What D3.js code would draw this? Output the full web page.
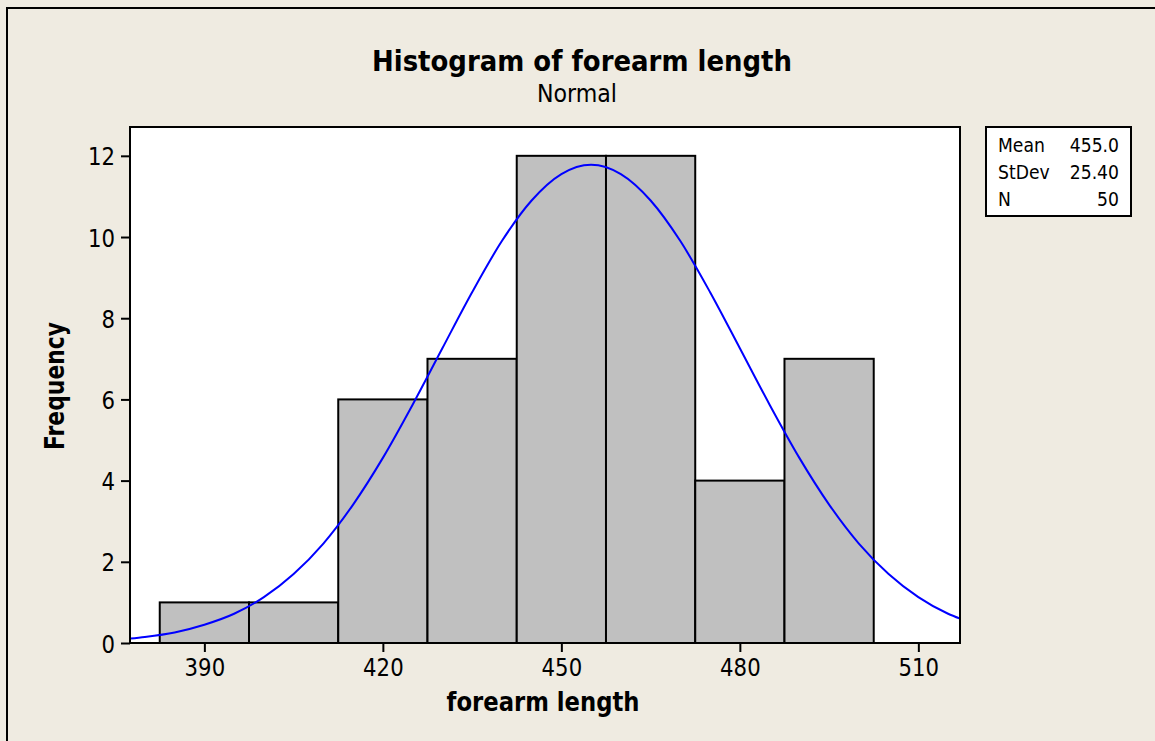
<!DOCTYPE html>
<html>
<head>
<meta charset="utf-8">
<script src="https://cdn.jsdelivr.net/npm/d3@7"></script>
<style>
  html, body { margin: 0; padding: 0; background: #efebe1; }
  svg { display: block; }
  text { font-family: "DejaVu Sans", Verdana, sans-serif; fill: #000; }
</style>
</head>
<body>
<svg id="chart" width="1155" height="741"></svg>
<script>
// histogram bins (lower edge) and counts
const binStart = [382.5, 397.5, 412.5, 427.5, 442.5, 457.5, 472.5, 487.5];
const binWidth = 15;
const counts = [1, 1, 6, 7, 12, 12, 4, 7];

// fitted normal curve
const curveX = [377.5, 380, 385, 390, 395, 400, 405, 410, 415, 420, 425, 430, 435, 440, 445, 450,
  455, 460, 465, 470, 475, 480, 485, 490, 495, 500, 505, 510, 515, 517];
const curveY = [0.11, 0.15, 0.26, 0.45, 0.72, 1.13, 1.70, 2.45, 3.41, 4.56, 5.87, 7.26, 8.64, 9.90, 10.90, 11.55,
  11.78, 11.55, 10.90, 9.90, 8.64, 7.26, 5.87, 4.56, 3.41, 2.45, 1.70, 1.13, 0.72, 0.60];

const xTicks = [390, 420, 450, 480, 510];
const yTicks = [0, 2, 4, 6, 8, 10, 12];

const statLabels = ["Mean", "StDev", "N"];
const statValues = ["455.0", "25.40", "50"];

const svg = d3.select("#chart");
const W = 1155, H = 741;

// plot area
const pLeft = 130, pRight = 960, pTop = 127, pBottom = 643;

const x = d3.scaleLinear().domain([377.5, 517]).range([pLeft, pRight]);
const y = d3.scaleLinear().domain([0, 12.71]).range([pBottom, pTop]);

// squeeze DejaVu a bit so it looks like Tahoma
function condense(sel, k) {
  sel.each(function () {
    const len = this.getComputedTextLength();
    this.setAttribute("textLength", len * (k || 0.86));
    this.setAttribute("lengthAdjust", "spacingAndGlyphs");
  });
}

// outer frame (only top and left show)
svg.append("rect").attr("width", W).attr("height", H).attr("fill", "#efebe1");
svg.append("path")
  .attr("d", `M7,${H} L7,8 L${W},8`)
  .attr("fill", "none")
  .attr("stroke", "#000")
  .attr("stroke-width", 2);

// plot background
svg.append("rect")
  .attr("x", pLeft).attr("y", pTop)
  .attr("width", pRight - pLeft).attr("height", pBottom - pTop)
  .attr("fill", "#fff");

svg.append("clipPath").attr("id", "clip")
  .append("rect")
  .attr("x", pLeft).attr("y", pTop)
  .attr("width", pRight - pLeft).attr("height", pBottom - pTop);

// bars
svg.append("g")
  .selectAll("rect")
  .data(counts)
  .enter()
  .append("rect")
  .attr("x", (d, i) => x(binStart[i]))
  .attr("y", d => y(d))
  .attr("width", (d, i) => x(binStart[i] + binWidth) - x(binStart[i]))
  .attr("height", d => y(0) - y(d))
  .attr("fill", "#c0c0c0")
  .attr("stroke", "#000")
  .attr("stroke-width", 2);

// normal curve
const line = d3.line()
  .x(d => x(d[0]))
  .y(d => y(d[1]))
  .curve(d3.curveMonotoneX);

svg.append("path")
  .datum(curveX.map((v, i) => [v, curveY[i]]))
  .attr("clip-path", "url(#clip)")
  .attr("d", line)
  .attr("fill", "none")
  .attr("stroke", "#0000ff")
  .attr("stroke-width", 2);

// frame on top of bars
svg.append("rect")
  .attr("x", pLeft).attr("y", pTop)
  .attr("width", pRight - pLeft).attr("height", pBottom - pTop)
  .attr("fill", "none")
  .attr("stroke", "#000")
  .attr("stroke-width", 2);

// axes
const xAxis = svg.append("g")
  .attr("transform", `translate(0,${pBottom})`)
  .call(d3.axisBottom(x).tickValues(xTicks).tickSize(9).tickPadding(6).tickSizeOuter(0));

const yAxis = svg.append("g")
  .attr("transform", `translate(${pLeft},0)`)
  .call(d3.axisLeft(y).tickValues(yTicks).tickSize(9).tickPadding(6).tickSizeOuter(0));

[xAxis, yAxis].forEach(g => {
  g.select(".domain").remove();
  g.selectAll("line").attr("stroke", "#000").attr("stroke-width", 2);
  g.selectAll("text")
    .attr("font-size", 25)
    .attr("font-family", "DejaVu Sans")
    .attr("fill", "#000");
});
yAxis.selectAll("text").attr("dy", "0.36em");
condense(xAxis.selectAll("text"), 0.85);
condense(yAxis.selectAll("text"), 0.85);

// titles
svg.append("text")
  .attr("x", 582).attr("y", 71)
  .attr("text-anchor", "middle")
  .attr("font-size", 29)
  .attr("font-weight", "bold")
  .attr("textLength", 420)
  .attr("lengthAdjust", "spacingAndGlyphs")
  .text("Histogram of forearm length");

svg.append("text")
  .attr("x", 577).attr("y", 102)
  .attr("text-anchor", "middle")
  .attr("font-size", 25)
  .attr("textLength", 80)
  .attr("lengthAdjust", "spacingAndGlyphs")
  .text("Normal");

svg.append("text")
  .attr("x", 543).attr("y", 711)
  .attr("text-anchor", "middle")
  .attr("font-size", 26)
  .attr("font-weight", "bold")
  .attr("textLength", 193)
  .attr("lengthAdjust", "spacingAndGlyphs")
  .text("forearm length");

svg.append("text")
  .attr("transform", "translate(64,386) rotate(-90)")
  .attr("text-anchor", "middle")
  .attr("font-size", 26)
  .attr("font-weight", "bold")
  .attr("textLength", 128)
  .attr("lengthAdjust", "spacingAndGlyphs")
  .text("Frequency");

// stats box
const box = svg.append("g");
box.append("rect")
  .attr("x", 986).attr("y", 127)
  .attr("width", 145).attr("height", 89)
  .attr("fill", "#fff")
  .attr("stroke", "#000")
  .attr("stroke-width", 2);

const rows = box.selectAll("g.row")
  .data(statLabels)
  .enter()
  .append("g")
  .attr("class", "row")
  .attr("transform", (d, i) => `translate(0,${152 + i * 27})`);

rows.append("text")
  .attr("x", 998)
  .attr("font-size", 20)
  .text(d => d);

rows.append("text")
  .attr("x", 1119)
  .attr("text-anchor", "end")
  .attr("font-size", 20)
  .text((d, i) => statValues[i]);

condense(rows.selectAll("text"), 0.86);
</script>
</body>
</html>
